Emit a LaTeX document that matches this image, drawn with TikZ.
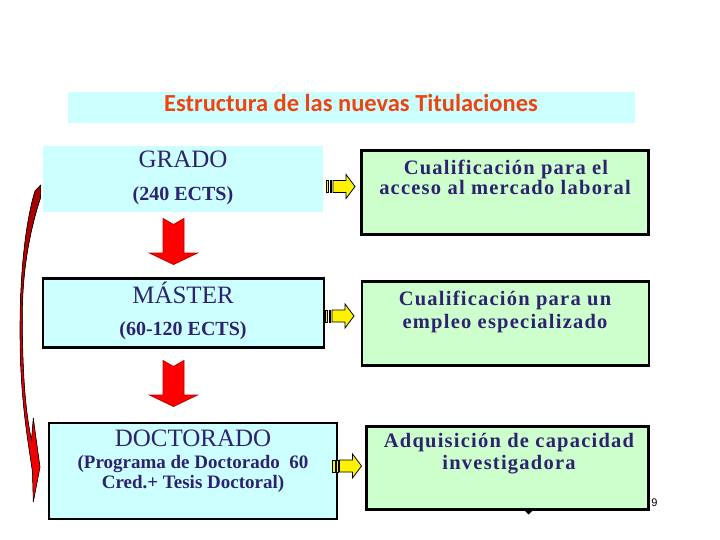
\documentclass[tikz,border=0pt]{standalone}
\usepackage{fontspec}
\setmainfont{Liberation Serif}
\newfontfamily\titlefont{Carlito}
\newfontfamily\numfont{Liberation Sans}
\newfontfamily\spacedfont[LetterSpace=6]{Liberation Serif}
\newcommand\myfs[1]{\fontsize{#1}{#1}\selectfont}
\definecolor{boxcyan}{HTML}{CCFFFF}
\definecolor{boxgreen}{HTML}{CCFFCC}
\definecolor{navy}{HTML}{2E2270}
\definecolor{titleorange}{HTML}{EE4411}
\definecolor{arrowred}{HTML}{FF0000}
\definecolor{arrowredline}{HTML}{C00000}
\definecolor{darkred}{HTML}{A00000}
\tikzset{
  lbl/.style={inner sep=0pt, anchor=base, text=navy},
  glbl/.style={inner sep=0pt, anchor=base, text=navy, font=\spacedfont\bfseries\myfs{20.5}},
  cyanbox/.style={fill=boxcyan, inner sep=0pt},
  greenbox/.style={fill=boxgreen, draw=black, line width=2.5pt, inner sep=0pt},
  yellowarrow/.style={fill=yellow, draw=black, line width=0.8pt, line join=miter},
  redarrow/.style={fill=arrowred, draw=arrowredline, line width=0.8pt, line join=miter},
}
\newcommand\yarrowshape{%
  \draw[yellowarrow] (0,-6) rectangle (2.5,6);
  \draw[yellowarrow] (4,-6) rectangle (5.5,6);
  \draw[yellowarrow] (7,-6) -- (20,-6) -- (20,-12) -- (29,0) -- (20,12) -- (20,6) -- (7,6) -- cycle;}
\newcommand\rarrowshape{%
  \draw[redarrow] (-10.5,0) -- (0,6) -- (10.5,0) -- (10.5,34.5) -- (24,34.5) -- (0,46) -- (-24,34.5) -- (-10.5,34.5) -- cycle;}
\begin{document}
\begin{tikzpicture}[x=1pt,y=-1pt]
\useasboundingbox (0,0) rectangle (720,540);
\fill[white] (0,0) rectangle (720,540);

% title band
\node[cyanbox, minimum width=567pt, minimum height=31pt] (titleband) at (351.5,107.5) {};
\node[inner sep=0pt, anchor=base, text=titleorange, font=\titlefont\bfseries\myfs{24.5}] (title) at (351,112) {Estructura de las nuevas Titulaciones};

% left column boxes
\node[cyanbox, minimum width=280pt, minimum height=66pt] (grado) at (183.3,178.7) {};
\node[cyanbox, draw=black, line width=2.2pt, minimum width=281pt, minimum height=69pt] (master) at (183.5,313) {};
\node[cyanbox, draw=black, line width=2.5pt, minimum width=288pt, minimum height=96pt] (doct) at (193,471) {};

% right column boxes
\node[greenbox, minimum width=287pt, minimum height=84pt] (cual1) at (505,192.5) {};
\node[greenbox, minimum width=287pt, minimum height=84pt] (cual2) at (505.5,323.5) {};
\node[greenbox, minimum width=282pt, minimum height=83pt] (adq) at (507.5,468) {};

% texts left
\node[lbl, font=\myfs{25}] (gradoT) at (183,168) {GRADO};
\node[lbl, font=\bfseries\myfs{20}] (gradoS) at (183,201) {(240 ECTS)};
\node[lbl, font=\myfs{25}] (masterT) at (183,303) {MÁSTER};
\node[lbl, font=\bfseries\myfs{20}] (masterS) at (183,335.5) {(60-120 ECTS)};
\node[lbl, font=\myfs{25}] (doctT) at (193,446.5) {DOCTORADO};
\node[lbl, font=\bfseries\myfs{19}] (doctS1) at (193,468) {(Programa de Doctorado\ \ 60};
\node[lbl, font=\bfseries\myfs{19}] (doctS2) at (193,488) {Cred.+ Tesis Doctoral)};

% texts right
\node[glbl] (c1a) at (506,174.5) {Cualificación para el};
\node[glbl] (c1b) at (505,195) {acceso al mercado laboral};
\node[glbl] (c2a) at (505,305) {Cualificación para un};
\node[glbl] (c2b) at (505,328) {empleo especializado};
\node[glbl] (a1) at (509,447) {Adquisición de capacidad};
\node[glbl] (a2) at (509,469) {investigadora};

% page number
\node[inner sep=0pt, anchor=base, font=\numfont\myfs{11}] (pnum) at (654.5,506.5) {9};
\fill[black] (525,511) -- (532,511) -- (528.5,514.5) -- cycle;

% yellow striped arrows
\begin{scope}[shift={(326,186.5)}]\yarrowshape\end{scope}
\begin{scope}[shift={(325,316)}]\yarrowshape\end{scope}
\begin{scope}[shift={(332.5,466)}]\yarrowshape\end{scope}

% red down arrows
\begin{scope}[shift={(173.5,218.5)}]\rarrowshape\end{scope}
\begin{scope}[shift={(173.5,360.5)}]\rarrowshape\end{scope}

% curved red arrow on the left
\filldraw[top color=darkred, bottom color=arrowred, draw=black, line width=0.6pt, line join=round]
  (40.7,185) -- (40.5,198)
  .. controls (30,230) and (22,270) .. (22.3,320)
  .. controls (22.5,370) and (25,410) .. (31.5,440)
  -- (33.3,418) -- (36.5,442) -- (40,467) -- (33.3,502) -- (32.5,472)
  .. controls (28,440) and (20,400) .. (20,330)
  .. controls (20,270) and (26,220) .. (35,191)
  -- cycle;
\end{tikzpicture}
\end{document}
